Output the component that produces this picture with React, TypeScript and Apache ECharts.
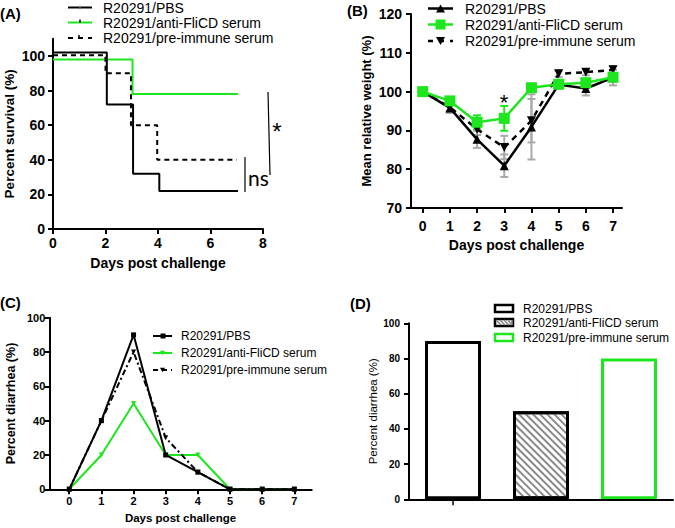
import React, { useEffect, useRef } from 'react';
import * as echarts from 'echarts';

const groups = ['R20291/PBS', 'R20291/anti-FliCD serum', 'R20291/pre-immune serum'];

// (A) Kaplan-Meier survival steps
const survPBSDays = [0, 2.05, 3.05, 4.05, 7.05];
const survPBS = [102, 72, 32, 22, 22];
const survFliCDDays = [0, 3.03, 7.05];
const survFliCD = [98, 78, 78];
const survPreDays = [0, 2, 2.97, 3.97, 7];
const survPre = [100.5, 90, 60, 40, 40];
const survTicksY = [0, 20, 40, 60, 80, 100];

// (B) Mean relative weight
const days = [0, 1, 2, 3, 4, 5, 6, 7];
const wPBS = [100, 95.8, 87.7, 80.9, 90.9, 101.8, 100.8, 103.6];
const wPBSsd = [0, 1.3, 2.2, 2.9, 8.4, 1, 1.8, 2];
const wFliCD = [100, 97.6, 92.1, 93.1, 101, 101.9, 102.3, 103.7];
const wFliCDsd = [0, 0.8, 1.8, 3.2, 0, 0.6, 0.6, 0.8];
const wPre = [100, 96, 90.3, 85.6, 92.5, 104.6, 105, 105.6];
const wPresd = [0, 1, 1.5, 3, 5.6, 0.8, 0.8, 1];

// (C) Percent diarrhea per day
const diarPBS = [0, 40, 90, 20, 10, 0, 0, 0];
const diarFliCD = [0, 20, 50, 20, 20, 0, 0, 0];
const diarPre = [0, 40, 80, 30, 10, 0, 0, 0];

// (D) Overall percent diarrhea
const totalDiar = [90, 50, 80];

const BLACK = '#000';
const GREEN = '#1ee61e';
const GRAY = '#a9a9a9';
const FONT = 'Liberation Sans, Arial, sans-serif';

function zip(xs: number[], ys: number[]) {
  return xs.map((x, i) => [x, ys[i]]);
}

function axisBase(fontSize: number, margin: number) {
  return {
    axisLine: { show: true, onZero: false, lineStyle: { color: BLACK, width: 2 } },
    axisTick: { show: true, length: 5, lineStyle: { color: BLACK, width: 2 } },
    splitLine: { show: false },
    axisLabel: { color: BLACK, fontWeight: 'bold' as const, fontSize, fontFamily: FONT, margin },
  };
}

function errSeries(idx: number, mean: number[], sd: number[], color: string, z: number) {
  return {
    type: 'custom',
    xAxisIndex: idx,
    yAxisIndex: idx,
    z,
    silent: true,
    data: days.map((d, i) => [d, mean[i] - sd[i], mean[i] + sd[i]]),
    renderItem: (params: any, api: any) => {
      const x = api.value(0);
      const lo = api.coord([x, api.value(1)]);
      const hi = api.coord([x, api.value(2)]);
      if (Math.abs(lo[1] - hi[1]) < 0.5) return null;
      const w = 4;
      const st = { stroke: color, lineWidth: 2 };
      return {
        type: 'group',
        children: [
          { type: 'line', shape: { x1: lo[0], y1: lo[1], x2: hi[0], y2: hi[1] }, style: st },
          { type: 'line', shape: { x1: lo[0] - w, y1: lo[1], x2: lo[0] + w, y2: lo[1] }, style: st },
          { type: 'line', shape: { x1: hi[0] - w, y1: hi[1], x2: hi[0] + w, y2: hi[1] }, style: st },
        ],
      };
    },
  };
}

function txt(text: string, x: number, y: number, size: number, opts: any = {}) {
  return {
    type: 'text',
    x,
    y,
    silent: true,
    style: {
      text,
      fill: BLACK,
      font: `${opts.weight || 'normal'} ${size}px ${opts.family || FONT}`,
      textAlign: opts.align || 'left',
      align: opts.align || 'left',
      textVerticalAlign: 'middle',
      verticalAlign: 'middle',
    },
  };
}

function ln(x1: number, y1: number, x2: number, y2: number, stroke: string, lineWidth: number, lineDash?: number[]) {
  return { type: 'line', silent: true, shape: { x1, y1, x2, y2 }, style: { stroke, lineWidth, lineDash } };
}

function tri(cx: number, cy: number, s: number, down: boolean) {
  const h = s * 0.9;
  const pts = down
    ? [[cx - s / 2, cy - h / 2], [cx + s / 2, cy - h / 2], [cx, cy + h / 2]]
    : [[cx - s / 2, cy + h / 2], [cx + s / 2, cy + h / 2], [cx, cy - h / 2]];
  return { type: 'polygon', silent: true, shape: { points: pts }, style: { fill: BLACK } };
}

function buildGraphics() {
  const g: any[] = [];
  // Panel labels
  g.push(txt('(A)', 0, 13, 15, { weight: 'bold' }));
  g.push(txt('(B)', 347, 10, 15, { weight: 'bold' }));
  g.push(txt('(C)', 0, 302, 15, { weight: 'bold' }));
  g.push(txt('(D)', 350, 303, 15, { weight: 'bold' }));

  // Legend A
  const aRows = [7.5, 22.5, 38];
  g.push(ln(68, aRows[0], 92, aRows[0], BLACK, 2));
  g.push(ln(80, aRows[0] - 2, 80, aRows[0] + 2, '#888', 1));
  g.push(ln(68, aRows[1], 92, aRows[1], GREEN, 2));
  g.push(ln(80, aRows[1] - 3, 80, aRows[1], BLACK, 1.5));
  g.push(ln(68, aRows[2], 92, aRows[2], BLACK, 2, [5, 5]));
  g.push(ln(79, aRows[2] - 3, 79, aRows[2], BLACK, 1.5));
  groups.forEach((n, i) => g.push(txt(n, 103, aRows[i], 14)));

  // Legend B
  const bRows = [8.5, 24.5, 41];
  g.push(ln(428, bRows[0], 453, bRows[0], BLACK, 2.5));
  g.push(tri(440.5, bRows[0], 9, false));
  g.push(ln(428, bRows[1], 453, bRows[1], GREEN, 2.5));
  g.push({ type: 'rect', silent: true, shape: { x: 435.5, y: bRows[1] - 5, width: 10, height: 10 }, style: { fill: GREEN } });
  g.push(ln(428, bRows[2], 453, bRows[2], BLACK, 2.5, [5, 6]));
  g.push(tri(440.5, bRows[2], 9, true));
  groups.forEach((n, i) => g.push(txt(n, 465, bRows[i], 14)));

  // Legend C
  const cRows = [336, 353, 370];
  g.push(ln(153, cRows[0], 172, cRows[0], BLACK, 2));
  g.push({ type: 'rect', silent: true, shape: { x: 160.5, y: cRows[0] - 2.5, width: 5, height: 5 }, style: { fill: BLACK } });
  g.push(ln(153, cRows[1], 172, cRows[1], GREEN, 2));
  g.push({ ...tri(162.5, cRows[1], 5, true), style: { fill: GREEN } });
  g.push(ln(153, cRows[2], 172, cRows[2], BLACK, 2, [5, 4]));
  g.push(tri(162.5, cRows[2], 5, true));
  groups.forEach((n, i) => g.push(txt(n, 181, cRows[i], 12)));

  // Legend D
  const dRows = [308.5, 322.5, 337.5];
  g.push({ type: 'rect', silent: true, shape: { x: 495, y: dRows[0] - 3.5, width: 18, height: 7 }, style: { fill: '#fff', stroke: BLACK, lineWidth: 2.5 } });
  g.push({ type: 'rect', silent: true, shape: { x: 495, y: dRows[1] - 3.5, width: 18, height: 7 }, style: { fill: '#fff', stroke: BLACK, lineWidth: 2.5 } });
  for (let k = 0; k < 5; k++) {
    const x0 = 496 + k * 4;
    g.push(ln(x0, dRows[1] - 2.5, Math.min(x0 + 5, 512), dRows[1] + 2.5, '#888', 1.5));
  }
  g.push({ type: 'rect', silent: true, shape: { x: 495, y: dRows[2] - 3.5, width: 18, height: 7 }, style: { fill: '#fff', stroke: GREEN, lineWidth: 2.5 } });
  groups.forEach((n, i) => g.push(txt(n, 523, dRows[i], 12)));

  // Significance annotations in A
  g.push(ln(268, 92, 270, 175, BLACK, 1.2));
  g.push(txt('*', 277, 131, 24, { align: 'center' }));
  g.push(ln(245, 157, 245, 192, BLACK, 1.2));
  g.push(txt('ns', 248, 177, 21, { family: 'Lato, sans-serif' }));

  // Significance in B
  g.push(txt('*', 504, 102, 22, { align: 'center' }));
  return g;
}

function buildOption() {
  const nameStyle = (size: number) => ({ color: BLACK, fontWeight: 'bold' as const, fontSize: size, fontFamily: FONT });
  return {
    animation: false,
    backgroundColor: '#fff',
    grid: [
      { left: 53, top: 38.7, width: 210, height: 190.3 },
      { left: 411, top: 14, width: 211, height: 194 },
      { left: 49.3, top: 317.7, width: 262.4, height: 171.6 },
      { left: 409, top: 323.3, width: 264, height: 176 },
    ],
    xAxis: [
      {
        gridIndex: 0, type: 'value', min: 0, max: 8, interval: 2, ...axisBase(14, 7),
        name: 'Days post challenge', nameLocation: 'middle', nameGap: 27, nameTextStyle: nameStyle(14),
      },
      {
        gridIndex: 1, type: 'value', min: -0.43, max: 7.33, ...axisBase(14, 11),
        axisLabel: { ...axisBase(14, 11).axisLabel, customValues: days },
        axisTick: { ...axisBase(14, 11).axisTick, customValues: days },
        name: 'Days post challenge', nameLocation: 'middle', nameGap: 30, nameTextStyle: nameStyle(14),
      },
      {
        gridIndex: 2, type: 'value', min: -0.62, max: 7.54, ...axisBase(11, 6),
        axisLabel: { ...axisBase(11, 6).axisLabel, customValues: days },
        axisTick: { ...axisBase(11, 6).axisTick, customValues: days },
        name: 'Days post challenge', nameLocation: 'middle', nameGap: 23, nameTextStyle: nameStyle(11.5),
      },
      {
        gridIndex: 3, type: 'category', data: groups, ...axisBase(10, 8), z: 10,
        axisLabel: { show: false },
        axisTick: { show: true, alignWithLabel: true, length: 6, lineStyle: { color: BLACK, width: 1.5 } },
      },
    ],
    yAxis: [
      {
        gridIndex: 0, type: 'value', min: 0, max: 110, ...axisBase(14, 8),
        axisLabel: { ...axisBase(14, 8).axisLabel, customValues: survTicksY },
        axisTick: { ...axisBase(14, 8).axisTick, customValues: survTicksY },
        name: 'Percent survival (%)', nameLocation: 'middle', nameGap: 37, nameTextStyle: nameStyle(13.5),
      },
      {
        gridIndex: 1, type: 'value', min: 70, max: 120, interval: 10, ...axisBase(14, 9),
        name: 'Mean relative weight (%)', nameLocation: 'middle', nameGap: 38, nameTextStyle: nameStyle(13),
      },
      {
        gridIndex: 2, type: 'value', min: 0, max: 100, interval: 20, ...axisBase(11, 4),
        name: 'Percent diarrhea (%)', nameLocation: 'middle', nameGap: 32, nameTextStyle: nameStyle(12.5),
      },
      {
        gridIndex: 3, type: 'value', min: 0, max: 100, interval: 20, ...axisBase(10, 9),
        name: 'Percent diarrhea (%)', nameLocation: 'middle', nameGap: 27,
        nameTextStyle: { ...nameStyle(11.5), fontWeight: 'normal' },
      },
    ],
    series: [
      // (A)
      {
        name: groups[1], type: 'line', xAxisIndex: 0, yAxisIndex: 0, step: 'end', symbol: 'none',
        data: zip(survFliCDDays, survFliCD), lineStyle: { color: GREEN, width: 2 }, z: 2,
      },
      {
        name: groups[2], type: 'line', xAxisIndex: 0, yAxisIndex: 0, step: 'end', symbol: 'none',
        data: zip(survPreDays, survPre), lineStyle: { color: BLACK, width: 2, type: [5, 4] }, z: 3,
      },
      {
        name: groups[0], type: 'line', xAxisIndex: 0, yAxisIndex: 0, step: 'end', symbol: 'none',
        data: zip(survPBSDays, survPBS), lineStyle: { color: BLACK, width: 2 }, z: 4,
      },
      // (B) error bars
      errSeries(1, wPBS, wPBSsd, GRAY, 1),
      errSeries(1, wPre, wPresd, GRAY, 1),
      errSeries(1, wFliCD, wFliCDsd, GREEN, 2),
      {
        name: groups[2], type: 'line', xAxisIndex: 1, yAxisIndex: 1, data: zip(days, wPre),
        symbol: 'triangle', symbolRotate: 180, symbolSize: 9, itemStyle: { color: BLACK },
        lineStyle: { color: BLACK, width: 2.5, type: [6, 5] }, z: 3,
      },
      {
        name: groups[0], type: 'line', xAxisIndex: 1, yAxisIndex: 1, data: zip(days, wPBS),
        symbol: 'triangle', symbolSize: 9, itemStyle: { color: BLACK },
        lineStyle: { color: BLACK, width: 2.5 }, z: 4,
      },
      {
        name: groups[1], type: 'line', xAxisIndex: 1, yAxisIndex: 1, data: zip(days, wFliCD),
        symbol: 'rect', symbolSize: 11, itemStyle: { color: GREEN },
        lineStyle: { color: GREEN, width: 2.5 }, z: 5,
      },
      // (C)
      {
        name: groups[1], type: 'line', xAxisIndex: 2, yAxisIndex: 2, data: zip(days, diarFliCD),
        symbol: 'triangle', symbolRotate: 180, symbolSize: 5, itemStyle: { color: GREEN },
        lineStyle: { color: GREEN, width: 2 }, z: 2,
      },
      {
        name: groups[2], type: 'line', xAxisIndex: 2, yAxisIndex: 2, data: zip(days, diarPre),
        symbol: 'triangle', symbolRotate: 180, symbolSize: 5, itemStyle: { color: BLACK },
        lineStyle: { color: BLACK, width: 2, type: [6, 3, 2, 3] }, z: 3,
      },
      {
        name: groups[0], type: 'line', xAxisIndex: 2, yAxisIndex: 2, data: zip(days, diarPBS),
        symbol: 'rect', symbolSize: 5, itemStyle: { color: BLACK },
        lineStyle: { color: BLACK, width: 2 }, z: 4,
      },
      // (D)
      {
        type: 'bar', xAxisIndex: 3, yAxisIndex: 3, barWidth: 56, z: 2,
        data: totalDiar.map((v, i) => ({
          value: v,
          itemStyle:
            i === 0
              ? { color: '#fff', borderColor: BLACK, borderWidth: 3 }
              : i === 1
              ? {
                  color: '#fff', borderColor: BLACK, borderWidth: 3,
                  decal: {
                    symbol: 'rect', symbolSize: 1, color: '#8a8a8a', backgroundColor: '#fff',
                    dashArrayX: [1, 0], dashArrayY: [2, 2.5], rotation: Math.PI / 4,
                  },
                }
              : { color: '#fff', borderColor: GREEN, borderWidth: 3 },
        })),
      },
    ],
    graphic: buildGraphics(),
  };
}

export default function App() {
  const ref = useRef<HTMLDivElement>(null);
  useEffect(() => {
    document.body.style.margin = '0';
    if (!ref.current) return;
    const chart = echarts.init(ref.current, undefined, { renderer: 'svg' });
    chart.setOption(buildOption() as any);
    return () => chart.dispose();
  }, []);
  return <div ref={ref} style={{ width: 675, height: 528 }} />;
}
